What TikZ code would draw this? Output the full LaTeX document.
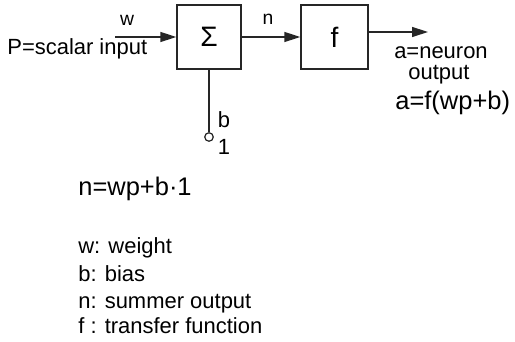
\documentclass[tikz,border=0pt]{standalone}
\usepackage{fontspec}
\setmainfont{Liberation Sans}
\usetikzlibrary{arrows.meta,positioning}

\tikzset{
  blok/.style={draw=black!85, line width=0.8pt, minimum height=1.28cm, font=\fontsize{16}{18}\selectfont},
  pijl/.style={draw=black!85, line width=0.8pt, -{Triangle[length=0.32cm,width=0.2cm]}},
  tekst/.style={inner sep=0pt, font=\fontsize{12.5}{15}\selectfont},
  klein/.style={inner sep=0pt, font=\fontsize{11}{13}\selectfont},
  groot/.style={inner sep=0pt, font=\fontsize{14.5}{17}\selectfont}
}

\begin{document}
\begin{tikzpicture}
                \useasboundingbox (0,0) rectangle (10.3,6.84);
                % blocks
                \node[blok, minimum width=1.28cm] (sum) at (4.18,6.1) {Σ};
                \node[blok, minimum width=1.34cm] (f) at (6.69,6.1) {f};
                % input
                \coordinate (pin) at (2.3,6.1);
                \draw[pijl] (pin) -- (sum.west);
                \node[klein] (w) at (2.54,6.44) {w};
                \node[tekst, anchor=base west] (p) at (0.14,5.74) {P=scalar input};
                % summer output
                \draw[pijl] (sum.east) -- (f.west);
                \node[klein] (n) at (5.36,6.46) {n};
                % neuron output
                \coordinate (aout) at (8.56,6.2);
                \draw[pijl] (f.east |- aout) -- (aout);
                \node[tekst, anchor=base] (a1) at (8.82,5.66) {a=neuron};
                \node[tekst, anchor=base] (a2) at (8.78,5.24) {output};
                \node[groot, anchor=base west] (afun) at (7.9,4.64) {a=f(wp+b)};
                % bias
                \node[circle, draw=black!85, line width=0.7pt, minimum size=0.17cm, inner sep=0pt] (bias) at (4.18,4.1) {};
                \draw[draw=black!85, line width=0.7pt] (sum.south) -- (bias.north);
                \node[tekst] (b) at (4.48,4.44) {b};
                \node[tekst] (one) at (4.48,3.9) {1};
                % formula
                \node[groot, anchor=base west] (nfun) at (1.56,2.92) {n=wp+b·1};
                % legend
                \node[tekst, anchor=base west] (legw) at (1.56,1.76) {w: weight};
                \node[tekst, anchor=base west] (legb) at (1.56,1.2) {b: bias};
                \node[tekst, anchor=base west] (legn) at (1.56,0.66) {n: summer output};
                \node[tekst, anchor=base west] (legf) at (1.56,0.16) {f : transfer function};
\end{tikzpicture}
\end{document}
